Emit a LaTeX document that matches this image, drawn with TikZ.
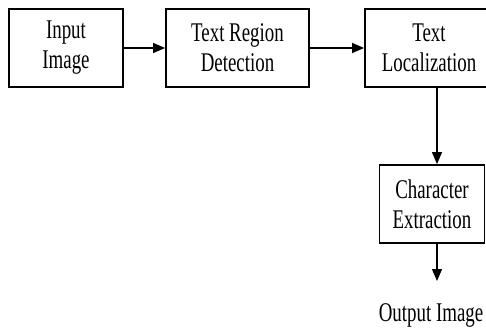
\documentclass[tikz,border=0pt]{standalone}
\usepackage{fontspec}
\setmainfont[FakeStretch=0.7]{Liberation Serif}
\usetikzlibrary{arrows.meta}
\begin{document}
\begin{tikzpicture}[x=1pt,y=1pt,
  box/.style={draw, line width=1.8pt, inner sep=0pt, align=center,
    font=\fontsize{27}{30}\selectfont},
  lbl/.style={inner sep=0pt, anchor=base, font=\fontsize{27}{30}\selectfont},
  conn/.style={line width=1.3pt, -{Triangle[length=12pt,width=10pt]}}]
\useasboundingbox (0,0) rectangle (486,-329);
\node[box, minimum width=114, minimum height=78] (b1) at (66,-48) {Input\\Image};
\node[box, minimum width=143, minimum height=78] (b2) at (237.5,-48) {Text Region\\Detection};
\node[box, minimum width=128, minimum height=78] (b3) at (429,-48) {Text\\Localization};
\node[box, minimum width=105, minimum height=78] (b4) at (432,-204) {Character\\Extraction};
\node[lbl] (out) at (431,-321.5) {Output Image};
\coordinate (v) at (437,0);
\coordinate (e) at (437,-281);
\draw[conn] (b1) -- (b2);
\draw[conn] (b2) -- (b3);
\draw[conn] (b3.south -| v) -- (b4.north -| v);
\draw[conn] (b4.south -| v) -- (e);
\end{tikzpicture}
\end{document}
